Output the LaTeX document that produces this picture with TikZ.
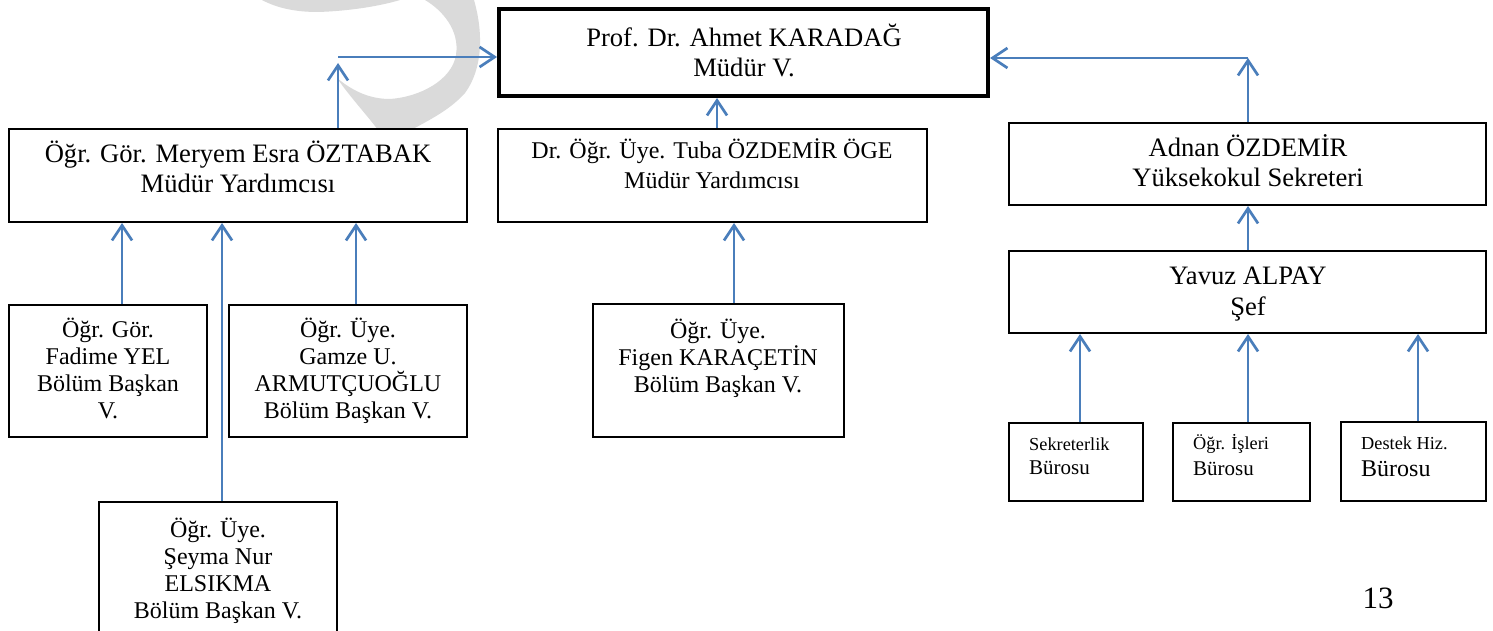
\documentclass[tikz,border=0pt]{standalone}
\usepackage{fontspec}
\setmainfont{Liberation Serif}
\usetikzlibrary{arrows.meta}
\definecolor{arrowblue}{RGB}{74,126,187}
\definecolor{wmgray}{RGB}{218,218,218}
\begin{document}
\begin{tikzpicture}[x=1pt,y=-1pt,
  box/.style={draw=black, line width=2pt, fill=white, rectangle, inner sep=0pt},
  bigtxt/.style={font=\fontsize{26.6}{30.5}\selectfont, align=center, inner sep=0pt, anchor=base},
  midtxt/.style={font=\fontsize{24}{27}\selectfont, align=center, inner sep=0pt, anchor=base},
  smalltxt/.style={font=\fontsize{18.3}{20}\selectfont, inner sep=0pt, anchor=base west},
  burotxt/.style={font=\fontsize{21}{24}\selectfont, inner sep=0pt, anchor=base west},
  conn/.style={draw=arrowblue, line width=2.7pt},
  arr/.style={conn, -{Straight Barb[length=15pt,width=20pt]}}
]
\useasboundingbox (0,0) rectangle (1493,631);
\clip (0,0) rectangle (1493,631);
\fill[white] (0,0) rectangle (1493,631);

% watermark
\fill[wmgray] (262,0) .. controls (277,8) and (295,12) .. (318,12) .. controls (350,11) and (380,6) .. (400,0) -- cycle;
\fill[wmgray] (425,0) -- (474,0) .. controls (484,35) and (482,70) .. (465,93)
  .. controls (448,112) and (425,122) .. (402,135) -- (382,135)
  .. controls (367,115) and (350,97) .. (337,78)
  .. controls (355,93) and (372,99) .. (390,99)
  .. controls (420,97) and (452,80) .. (456,55)
  .. controls (460,30) and (442,10) .. (425,0) -- cycle;

% boxes
\node[box, line width=4pt, minimum width=489pt, minimum height=87pt] (prof) at (743.5,52.5) {};
\node[box, minimum width=458pt, minimum height=93pt] (meryem) at (238,175.5) {};
\node[box, minimum width=429pt, minimum height=93pt] (tuba) at (712.5,175.5) {};
\node[box, minimum width=477pt, minimum height=82pt] (adnan) at (1247.5,164) {};
\node[box, minimum width=477pt, minimum height=82pt] (yavuz) at (1247.5,292) {};
\node[box, minimum width=134pt, minimum height=78pt] (sek) at (1076,462) {};
\node[box, minimum width=137pt, minimum height=78pt] (isl) at (1241.5,462) {};
\node[box, minimum width=145pt, minimum height=79pt] (destek) at (1413.5,461.5) {};
\node[box, minimum width=198pt, minimum height=132pt] (fadime) at (108,371) {};
\node[box, minimum width=238pt, minimum height=132pt] (gamze) at (348,371) {};
\node[box, minimum width=238pt, minimum height=158pt] (seyma) at (218,581) {};
\node[box, minimum width=251pt, minimum height=133pt] (figen) at (718.5,370.5) {};

% texts (anchor base = baseline of the last line)
\node[bigtxt] (proft) at (744,77) {Prof. Dr. Ahmet KARADAĞ\\Müdür V.};
\node[bigtxt] (meryemt) at (238,193) {Öğr. Gör. Meryem Esra ÖZTABAK\\Müdür Yardımcısı};
\node[midtxt, font=\fontsize{24}{30}\selectfont] (tubat) at (712,189) {Dr. Öğr. Üye. Tuba ÖZDEMİR ÖGE\\Müdür Yardımcısı};
\node[bigtxt] (adnant) at (1248,187) {Adnan ÖZDEMİR\\Yüksekokul Sekreteri};
\node[bigtxt] (yavuzt) at (1248,315) {Yavuz ALPAY\\Şef};
\node[midtxt] (fadimet) at (108,418) {Öğr. Gör.\\Fadime YEL\\Bölüm Başkan\\V.};
\node[midtxt] (gamzet) at (348,418) {Öğr. Üye.\\Gamze U.\\ARMUTÇUOĞLU\\Bölüm Başkan V.};
\node[midtxt] (seymat) at (218,618) {Öğr. Üye.\\Şeyma Nur\\ELSIKMA\\Bölüm Başkan V.};
\node[midtxt] (figent) at (718,392) {Öğr. Üye.\\Figen KARAÇETİN\\Bölüm Başkan V.};
\node[smalltxt] (sekt) at (1029,450) {Sekreterlik};
\node[burotxt] (sekb) at (1029,474) {Bürosu};
\node[smalltxt] (islt) at (1193,449) {Öğr. İşleri};
\node[burotxt] (islb) at (1193,475) {Bürosu};
\node[smalltxt] (destt) at (1361,449) {Destek Hiz.};
\node[burotxt, font=\fontsize{24}{26}\selectfont] (destb) at (1361,476) {Bürosu};
\node[font=\fontsize{31}{34}\selectfont, inner sep=0pt, anchor=base] (pagenum) at (1378,608) {13};

% connector coordinates
\coordinate (jl) at (338,57);
\coordinate (jlt) at (338,63);
\coordinate (jr) at (1248,58);
\coordinate (xt) at (717,0);
\coordinate (xs1) at (1080,0);
\coordinate (xs2) at (1248,0);
\coordinate (xs3) at (1418,0);
\coordinate (xf) at (122,0);
\coordinate (xg) at (356,0);
\coordinate (xsy) at (222,0);
\coordinate (xfi) at (734,0);

% connectors
\draw[arr] (meryem.north -| jl) -- (jlt);
\draw[arr] (jl) -- (jl -| prof.west);
\draw[arr] (tuba.north -| xt) -- (prof.south -| xt);
\draw[arr] (adnan.north -| jr) -- (jr);
\draw[arr] (jr) -- (jr -| prof.east);
\draw[arr] (yavuz.north -| jr) -- (adnan.south -| jr);
\draw[arr] (sek.north -| xs1) -- (yavuz.south -| xs1);
\draw[arr] (isl.north -| xs2) -- (yavuz.south -| xs2);
\draw[arr] (destek.north -| xs3) -- (yavuz.south -| xs3);
\draw[arr] (fadime.north -| xf) -- (meryem.south -| xf);
\draw[arr] (gamze.north -| xg) -- (meryem.south -| xg);
\draw[arr] (seyma.north -| xsy) -- (meryem.south -| xsy);
\draw[arr] (figen.north -| xfi) -- (tuba.south -| xfi);
\end{tikzpicture}
\end{document}
